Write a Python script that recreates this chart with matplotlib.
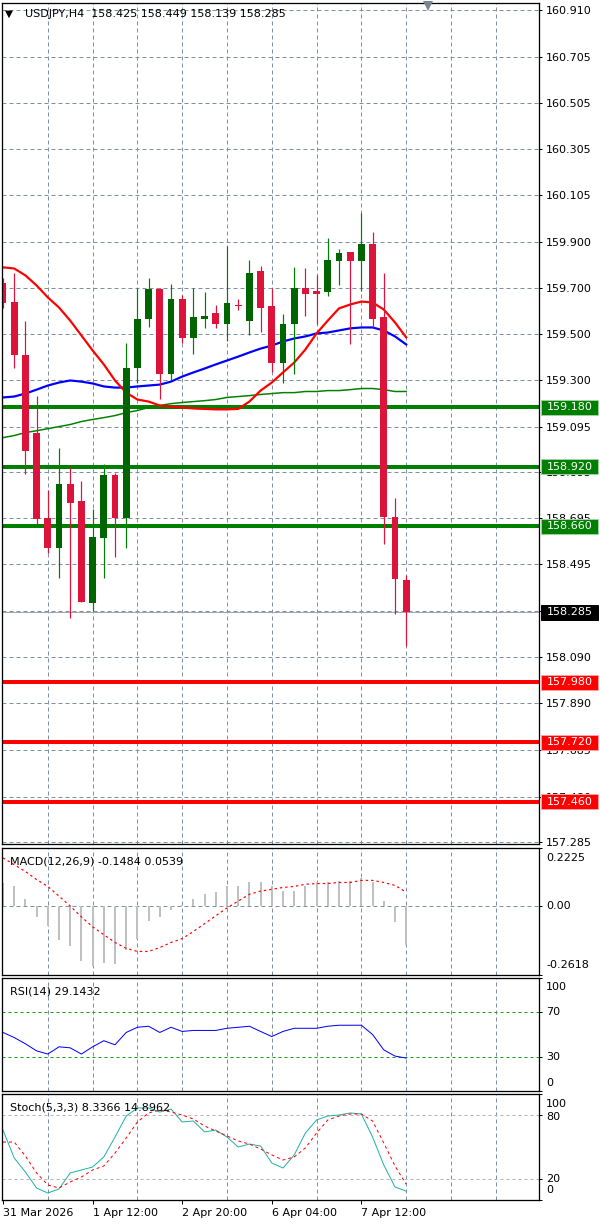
import matplotlib
matplotlib.use("Agg")
import matplotlib.pyplot as plt
import matplotlib.patches as mpatches
import numpy as np

# ------------------------- data -------------------------
symbol_title = "USDJPY,H4"
header_ohlc = [158.425, 158.449, 158.139, 158.285]

opens = [159.719, 159.636, 159.405, 159.069, 158.698, 158.567, 158.846, 158.770, 158.327, 158.611,
         158.886, 158.698, 159.352, 159.566, 159.693, 159.326, 159.653, 159.479, 159.566, 159.588,
         159.540, 159.627, 159.557, 159.771, 159.619, 159.370, 159.544, 159.697, 159.688, 159.680,
         159.815, 159.854, 159.815, 159.889, 159.571, 158.702, 158.425]
highs = [159.741, 159.763, 159.557, 159.230, 158.820, 159.003, 158.920, 158.859, 158.737, 158.934,
         158.894, 159.461, 159.701, 159.741, 159.697, 159.715, 159.667, 159.701, 159.680, 159.623,
         159.880, 159.653, 159.819, 159.793, 159.697, 159.584, 159.789, 159.784, 159.754, 159.915,
         159.867, 159.854, 160.024, 159.941, 159.763, 158.785, 158.449]
lows = [159.610, 159.352, 158.890, 158.672, 158.545, 158.436, 158.262, 158.331, 158.292, 158.436,
        158.528, 158.567, 159.283, 159.527, 159.217, 159.296, 159.461, 159.413, 159.523, 159.523,
        159.470, 159.605, 159.492, 159.509, 159.331, 159.287, 159.326, 159.579, 159.540, 159.662,
        159.710, 159.453, 159.688, 159.527, 158.585, 158.279, 158.139]
closes = [159.632, 159.405, 158.990, 158.694, 158.567, 158.846, 158.763, 158.331, 158.615, 158.886,
          158.698, 159.352, 159.562, 159.693, 159.326, 159.653, 159.479, 159.571, 159.575, 159.540,
          159.632, 159.619, 159.763, 159.610, 159.370, 159.544, 159.701, 159.675, 159.675, 159.819,
          159.850, 159.815, 159.889, 159.566, 158.702, 158.432, 158.285]

ma_fast = [159.789, 159.784, 159.754, 159.710, 159.658, 159.614, 159.557, 159.492, 159.427, 159.366,
           159.296, 159.243, 159.213, 159.204, 159.187, 159.182, 159.178, 159.174, 159.172, 159.170,
           159.170, 159.172, 159.204, 159.252, 159.287, 159.331, 159.374, 159.431, 159.501, 159.557,
           159.610, 159.627, 159.640, 159.636, 159.605, 159.549, 159.484]
ma_mid = [159.222, 159.226, 159.239, 159.256, 159.274, 159.287, 159.296, 159.291, 159.283, 159.270,
          159.265, 159.265, 159.270, 159.274, 159.278, 159.291, 159.313, 159.331, 159.348, 159.366,
          159.383, 159.400, 159.418, 159.435, 159.448, 159.466, 159.479, 159.488, 159.501, 159.505,
          159.514, 159.523, 159.527, 159.527, 159.514, 159.488, 159.453]
ma_slow = [159.047, 159.056, 159.069, 159.077, 159.086, 159.095, 159.104, 159.117, 159.126, 159.134,
           159.143, 159.156, 159.165, 159.178, 159.187, 159.195, 159.200, 159.204, 159.208, 159.213,
           159.222, 159.226, 159.230, 159.235, 159.239, 159.243, 159.243, 159.248, 159.248, 159.252,
           159.252, 159.256, 159.261, 159.261, 159.256, 159.248, 159.248]

macd_main = [0.090, 0.076, 0.027, -0.040, -0.075, -0.130, -0.153, -0.209, -0.228, -0.217,
             -0.220, -0.168, -0.123, -0.055, -0.040, -0.015, 0.005, 0.027, 0.047, 0.054,
             0.077, 0.077, 0.092, 0.092, 0.077, 0.058, 0.058, 0.077, 0.092, 0.092,
             0.095, 0.095, 0.110, 0.092, 0.020, -0.059, -0.1484]
macd_signal = [0.185, 0.159, 0.133, 0.102, 0.076, 0.039, 0.001, -0.040, -0.078, -0.108,
               -0.138, -0.160, -0.172, -0.172, -0.157, -0.138, -0.123, -0.096, -0.066, -0.036,
               -0.006, 0.020, 0.046, 0.058, 0.065, 0.072, 0.076, 0.084, 0.087, 0.087,
               0.091, 0.091, 0.099, 0.099, 0.091, 0.080, 0.0539]

rsi = [51.8, 47.3, 41.8, 35.5, 32.7, 39.1, 38.2, 32.7, 39.1, 44.5,
       40.9, 51.8, 56.4, 57.3, 51.8, 56.4, 52.7, 53.6, 53.6, 53.6,
       55.5, 56.4, 57.3, 52.7, 48.2, 52.7, 55.5, 55.5, 55.5, 57.3,
       58.2, 58.2, 58.2, 50.0, 36.4, 30.9, 29.1432]

stoch_main = [66.0, 39.6, 26.4, 11.3, 6.6, 10.4, 25.5, 28.3, 31.1, 40.6,
              59.4, 79.2, 86.8, 86.8, 83.0, 85.8, 73.6, 74.5, 64.2, 66.0,
              59.4, 50.0, 52.8, 50.9, 34.9, 30.2, 42.5, 63.2, 75.5, 79.2,
              80.2, 82.1, 81.1, 59.4, 33.0, 12.3, 8.3366]
stoch_signal = [54.7, 54.7, 41.5, 25.5, 14.2, 11.3, 17.0, 21.7, 28.3, 32.1,
                44.3, 58.5, 73.6, 82.1, 84.9, 83.0, 80.2, 76.4, 69.8, 65.1,
                60.4, 55.7, 52.8, 48.1, 42.5, 37.7, 40.6, 49.1, 63.2, 75.5,
                79.2, 81.1, 81.1, 74.5, 53.8, 32.1, 14.8962]

date_labels = ["31 Mar 2026", "1 Apr 12:00", "2 Apr 20:00", "6 Apr 04:00", "7 Apr 12:00"]
date_label_idx = [0, 8, 16, 24, 32]

price_ticks = [160.910, 160.705, 160.505, 160.305, 160.105, 159.900, 159.700, 159.500, 159.300,
               159.095, 158.895, 158.695, 158.495, 158.290, 158.090, 157.890, 157.685, 157.480,
               157.285]
green_levels = [159.180, 158.920, 158.660]
red_levels = [157.980, 157.720, 157.460]
last_price = 158.285

macd_ticks = [0.2225, 0.0, -0.2618]
macd_tick_labels = ["0.2225", "0.00", "-0.2618"]
rsi_ticks = [100, 70, 30, 0]
rsi_levels = [70, 30]
stoch_ticks = [100, 80, 20, 0]
stoch_levels = [80, 20]

# ------------------------- style -------------------------
W, H, DPI = 600, 1225, 100
PX = 72.0 / DPI
FS = 8
GRID_C = '#8190a1'
BULL_BODY, BULL_WICK = '#006400', '#008000'
BEAR = '#DC143C'
LEVEL_GREEN, LEVEL_RED = '#008000', '#FF0000'

plt.rcParams['font.family'] = ['DejaVu Sans']
fig = plt.figure(figsize=(W / DPI, H / DPI), dpi=DPI)
fig.patch.set_facecolor('white')


def pane(top, bottom, left=2, right=539):
    a = fig.add_axes([left / W, 1 - bottom / H, (right - left) / W, (bottom - top) / H])
    a.set_facecolor('white')
    for s in a.spines.values():
        s.set_color('black')
        s.set_linewidth(PX * 1.3)
        s.set_zorder(25)
    return a


ax = pane(3, 844)
axm = pane(848, 975)
axr = pane(978, 1091)
axs = pane(1094, 1200)

n = len(opens)
x = np.arange(n)
XLIM = (-0.09, 47.86)
grid_idx = list(range(4, 48, 4))

for a in (ax, axm, axr, axs):
    a.set_xlim(*XLIM)
    a.set_xticks(grid_idx, minor=True)
    a.grid(True, which='minor', axis='x', color=GRID_C, lw=PX, ls=(0, (4, 3)))
    a.tick_params(axis='x', which='minor', length=0)
    a.yaxis.tick_right()
    a.tick_params(axis='y', which='major', direction='out', length=3 * PX, width=PX,
                  colors='black', labelsize=FS, pad=4 * PX)
    a.set_axisbelow(True)

for a in (ax, axm, axr):
    a.set_xticks([])
    a.set_xticks(grid_idx, minor=True)

# ------------------------- main price pane -------------------------
ax.set_ylim(157.276, 160.941)
ax.set_yticks(price_ticks)
ax.set_yticklabels([f"{t:.3f}" for t in price_ticks])
ax.grid(True, which='major', axis='y', color=GRID_C, lw=PX, ls=(0, (4, 3)))

o, h, l, c = map(np.array, (opens, highs, lows, closes))
up = c >= o
for lv in green_levels:
    ax.axhline(lv, color=LEVEL_GREEN, lw=4 * PX, zorder=2)
for lv in red_levels:
    ax.axhline(lv, color=LEVEL_RED, lw=4 * PX, zorder=2)
ax.axhline(last_price, color='#a0a8b4', lw=PX, zorder=2)

# moving averages (drawn behind the candles: chart on foreground)
ax.plot(x, ma_slow, color='#008000', lw=1.5 * PX, zorder=3)
ax.plot(x, ma_mid, color='#0000FF', lw=2.2 * PX, zorder=3)
ax.plot(x, ma_fast, color='#FF0000', lw=2.2 * PX, zorder=3)

ax.vlines(x, l, h, colors=np.where(up, BULL_WICK, BEAR), lw=1.2 * PX, zorder=4)
body_h = np.maximum(np.abs(c - o), 0.006)
ax.bar(x, body_h, bottom=np.minimum(o, c), width=0.62,
       color=np.where(up, BULL_BODY, BEAR), linewidth=0, zorder=5)

ytr = ax.get_yaxis_transform()
box_w = 57 / 537.0
box_h = 15 / 229.2


def price_box(val, fc, ec):
    ax.add_patch(mpatches.Rectangle((1 + 2 / 537.0, val - box_h / 2), box_w, box_h,
                                    transform=ytr, facecolor=fc, edgecolor=ec,
                                    lw=PX, clip_on=False, zorder=20))
    ax.text(1 + 2 / 537.0 + box_w / 2, val, f"{val:.3f}", transform=ytr, ha='center',
            va='center', color='white', fontsize=FS, clip_on=False, zorder=21)


for lv in green_levels:
    price_box(lv, LEVEL_GREEN, '#9fd09f')
for lv in red_levels:
    price_box(lv, LEVEL_RED, '#ff9f9f')
price_box(last_price, 'black', 'black')

fig.text(5 / W, 1 - 14 / H, "\u25BC", fontsize=7.5, va='center', ha='left', color='black')
fig.text(25 / W, 1 - 14 / H,
         f"{symbol_title}  " + " ".join(f"{v:.3f}" for v in header_ohlc),
         fontsize=FS, va='center', ha='left', color='black')
ax.plot([0.793], [1 - 3 / 841], marker='v', ms=7, color='#7b8594', transform=ax.transAxes,
        clip_on=False, zorder=30, markeredgewidth=0)


def right_labels(a, ticks, labels, offsets):
    a.set_yticks(ticks)
    a.set_yticklabels([])
    for t, s, d in zip(ticks, labels, offsets):
        a.annotate(s, xy=(1, t), xycoords=('axes fraction', 'data'), xytext=(7, d),
                   textcoords='offset pixels', ha='left', va='center', fontsize=FS,
                   annotation_clip=False)


# ------------------------- MACD -------------------------
axm.set_ylim(-0.2618, 0.2225)
axm.axhline(0, color=GRID_C, lw=PX, ls=(0, (4, 3)), zorder=1)
axm.bar(x, macd_main, width=0.17, color='#C0C0C0', linewidth=0, zorder=2)
axm.plot(x, macd_signal, color='#FF0000', lw=PX * 1.2, ls=(0, (2, 2.5)), zorder=3)
right_labels(axm, macd_ticks, macd_tick_labels, [-10, 0, 10])
axm.text(8 / 537.0, 1 - 14 / 127.0, "MACD(12,26,9) -0.1484 0.0539", transform=axm.transAxes,
         fontsize=FS, va='center', ha='left')

# ------------------------- RSI -------------------------
axr.set_ylim(0, 100)
for lv in rsi_levels:
    axr.axhline(lv, color='#1a9a1a', lw=PX, ls=(0, (3, 3)), zorder=1)
axr.plot(x, rsi, color='#0000FF', lw=PX, zorder=3)
right_labels(axr, rsi_ticks, [str(t) for t in rsi_ticks], [-9, 0, 0, 8])
axr.text(8 / 537.0, 1 - 13 / 113.0, "RSI(14) 29.1432", transform=axr.transAxes,
         fontsize=FS, va='center', ha='left')

# ------------------------- Stochastic -------------------------
axs.set_ylim(0, 100)
for lv in stoch_levels:
    axs.axhline(lv, color='#b4b4b4', lw=PX, ls=(0, (3, 3)), zorder=1)
axs.plot(x, stoch_main, color='#20B2AA', lw=PX, zorder=3)
axs.plot(x, stoch_signal, color='#FF0000', lw=PX, ls=(0, (3, 3)), zorder=3)
right_labels(axs, stoch_ticks, [str(t) for t in stoch_ticks], [-10, -2, 0, 10])
axs.text(8 / 537.0, 1 - 13 / 106.0, "Stoch(5,3,3) 8.3366 14.8962", transform=axs.transAxes,
         fontsize=FS, va='center', ha='left')

axs.set_xticks(date_label_idx)
axs.set_xticklabels(date_labels, ha='left', fontsize=FS)
axs.tick_params(axis='x', which='major', direction='out', length=4 * PX, width=PX, pad=4 * PX)

fig.savefig("out.png", dpi=DPI, facecolor='white')
